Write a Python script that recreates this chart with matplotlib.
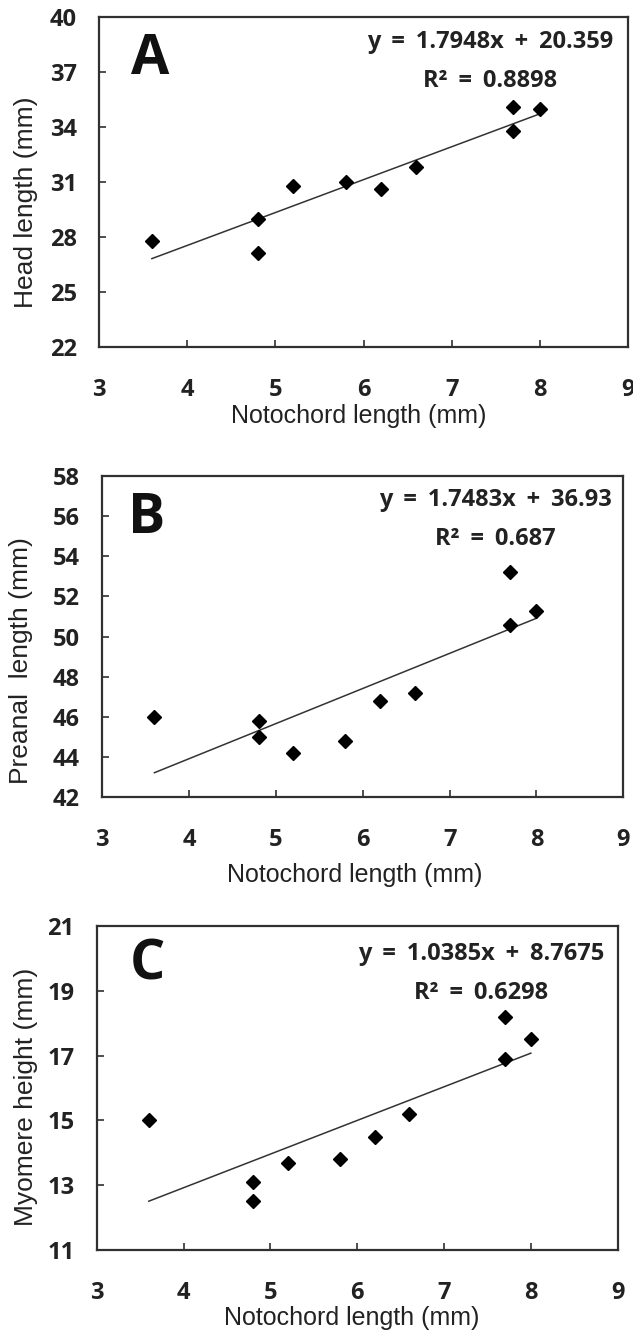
import matplotlib
matplotlib.use("Agg")
import matplotlib.pyplot as plt
from matplotlib import font_manager
import numpy as np

# ---- data ----
notochord = [3.6, 4.8, 4.8, 5.2, 5.8, 6.2, 6.6, 7.7, 7.7, 8.0]
head_length = [27.8, 29.0, 27.1, 30.8, 31.0, 30.6, 31.8, 35.1, 33.8, 35.0]
preanal_length = [46.0, 45.8, 45.0, 44.2, 44.8, 46.8, 47.2, 53.2, 50.6, 51.3]
myomere_height = [15.0, 13.1, 12.5, 13.7, 13.8, 14.5, 15.2, 18.2, 16.9, 17.5]

slopes = [1.7948, 1.7483, 1.0385]
intercepts = [20.359, 36.93, 8.7675]
equations = ["y = 1.7948x + 20.359", "y = 1.7483x + 36.93", "y = 1.0385x + 8.7675"]
r2_labels = ["R\u00b2 = 0.8898", "R\u00b2 = 0.687", "R\u00b2 = 0.6298"]
panel_letters = ["A", "B", "C"]
y_labels = ["Head length (mm)", "Preanal  length (mm)", "Myomere height (mm)"]
x_label = "Notochord length (mm)"
x_ticks = [3, 4, 5, 6, 7, 8, 9]
y_ticks_A = [22, 25, 28, 31, 34, 37, 40]
y_ticks_B = [42, 44, 46, 48, 50, 52, 54, 56, 58]
y_ticks_C = [11, 13, 15, 17, 19, 21]

series = [head_length, preanal_length, myomere_height]
yticks_all = [y_ticks_A, y_ticks_B, y_ticks_C]

# pick a bold font family that really has a bold face
bold_family = "DejaVu Sans"
for fam in ["Open Sans", "Noto Sans", "Lato", "Roboto", "Liberation Sans"]:
    try:
        fp = font_manager.FontProperties(family=fam, weight="bold")
        path = font_manager.findfont(fp, fallback_to_default=False)
        f = font_manager.get_font(path)
        if "bold" in f.style_name.lower() or f.style_flags & 2:
            bold_family = fam
            break
    except Exception:
        pass

# ---- layout ----
W, H = 633, 1333
axes_px = [  # left, top, right, bottom in pixels
    (99, 17, 628, 347),
    (102.3, 476, 623.3, 797.3),
    (96.7, 926, 617.7, 1250),
]
eq_pos = [(0.739, 0.924, 0.806), (0.754, 0.925, 0.804), (0.738, 0.914, 0.793)]
letter_pos = [(0.096, 0.87), (0.086, 0.869), (0.0975, 0.88)]
xlabel_pos = [(0.49, -0.172), (0.485, -0.205), (0.489, -0.172)]
ylabel_pos = [(-0.115, 0.439), (-0.133, 0.427), (-0.113, 0.472)]

fig = plt.figure(figsize=(W / 100, H / 100), dpi=100)
fig.patch.set_facecolor("white")

spine_c = "#303030"
text_c = "#222222"
bold_font = [bold_family, "DejaVu Sans"]
reg_font = ["Liberation Sans", "DejaVu Sans"]

for i in range(3):
    l, t, r, b = axes_px[i]
    ax = fig.add_axes([l / W, 1 - b / H, (r - l) / W, (b - t) / H])
    yt = yticks_all[i]
    ys = series[i]

    ax.plot(notochord, ys, linestyle="none", marker="D", markersize=7.6,
            color="black", zorder=3)
    xfit = np.array([min(notochord), max(notochord)])
    ax.plot(xfit, slopes[i] * xfit + intercepts[i], color="#333333",
            linewidth=1.1, zorder=2)

    ax.set_xlim(x_ticks[0], x_ticks[-1])
    ax.set_ylim(yt[0], yt[-1])
    ax.set_xticks(x_ticks)
    ax.set_yticks(yt)
    ax.set_xticklabels([str(v) for v in x_ticks], fontfamily=bold_font,
                       fontweight="bold", fontsize=17, color=text_c)
    ax.set_yticklabels([str(v) for v in yt], fontfamily=bold_font,
                       fontweight="bold", fontsize=17, color=text_c)
    ax.tick_params(axis="x", direction="in", length=5, width=1.2,
                   color=spine_c, pad=22)
    ax.tick_params(axis="y", direction="in", length=5, width=1.2,
                   color=spine_c, pad=16)
    for s in ax.spines.values():
        s.set_color(spine_c)
        s.set_linewidth(1.6)

    ax.set_xlabel(x_label, fontfamily=reg_font, fontsize=18, color=text_c)
    ax.xaxis.set_label_coords(*xlabel_pos[i])
    ax.set_ylabel(y_labels[i], fontfamily=reg_font, fontsize=19, color=text_c)
    ax.yaxis.set_label_coords(*ylabel_pos[i])

    ex, ey, ry = eq_pos[i]
    ax.text(ex, ey, equations[i].replace(" ", "\u2009 "), transform=ax.transAxes,
            ha="center", va="center", fontfamily=bold_font, fontweight="bold",
            fontsize=17, color=text_c)
    ax.text(ex, ry, r2_labels[i].replace(" ", "\u2009 "), transform=ax.transAxes,
            ha="center", va="center", fontfamily=bold_font, fontweight="bold",
            fontsize=17, color=text_c)
    lx, ly = letter_pos[i]
    ax.text(lx, ly, panel_letters[i], transform=ax.transAxes, ha="center",
            va="center", fontfamily=bold_font, fontweight="bold",
            fontsize=40, color="#111111")

fig.savefig("out.png", dpi=100, facecolor="white")
